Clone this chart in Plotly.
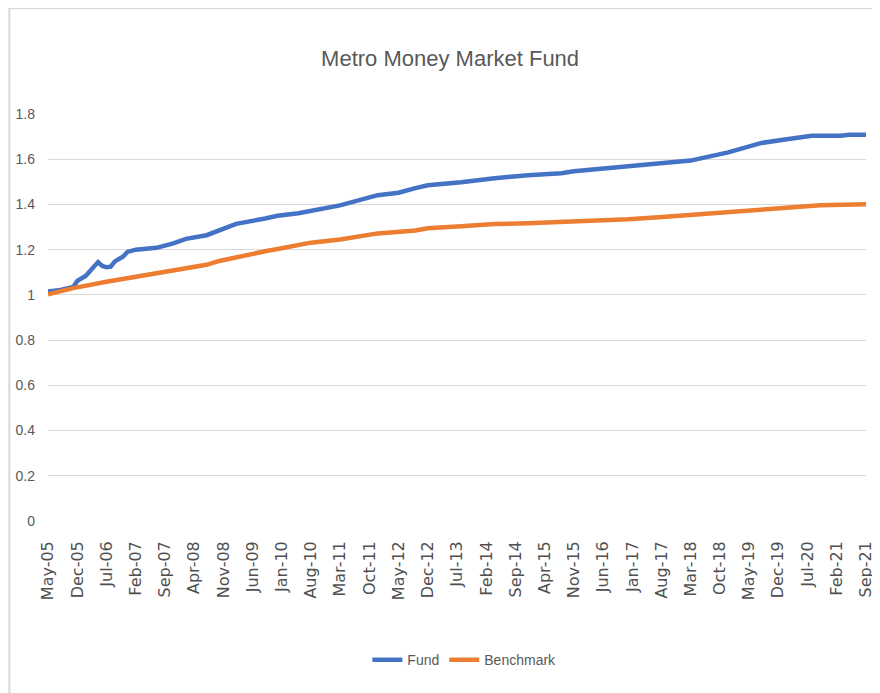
import plotly.graph_objects as go

# ---- data ----
fund_dates = ["2005-05-01", "2005-08-01", "2005-11-01", "2005-12-01", "2006-02-01",
              "2006-03-01", "2006-05-01", "2006-06-01", "2006-07-01", "2006-08-01",
              "2006-09-01", "2006-11-01", "2006-12-01", "2007-02-01", "2007-07-01",
              "2007-11-01", "2008-02-01", "2008-07-01", "2008-10-01", "2009-02-01",
              "2009-09-01", "2009-12-01", "2010-05-01", "2011-03-01", "2011-12-01",
              "2012-05-01", "2012-09-01", "2012-12-01", "2013-08-01", "2014-04-01",
              "2014-12-01", "2015-08-01", "2015-11-01", "2016-04-01", "2016-12-01",
              "2017-05-01", "2018-03-01", "2018-12-01", "2019-08-01", "2020-02-01",
              "2020-08-01", "2021-03-01", "2021-05-01", "2021-09-01"]
fund_values = [1.015, 1.022, 1.035, 1.062, 1.085,
               1.105, 1.145, 1.128, 1.122, 1.125,
               1.148, 1.170, 1.190, 1.200, 1.208,
               1.228, 1.248, 1.264, 1.285, 1.314,
               1.338, 1.350, 1.361, 1.396, 1.441,
               1.452, 1.472, 1.485, 1.498, 1.516,
               1.529, 1.538, 1.547, 1.556, 1.568,
               1.577, 1.594, 1.630, 1.672, 1.688,
               1.704, 1.704, 1.708, 1.708]

bench_dates = ["2005-05-01", "2005-11-01", "2006-07-01", "2007-03-01", "2007-11-01",
               "2008-07-01", "2008-10-01", "2009-02-01", "2009-09-01", "2009-12-01",
               "2010-05-01", "2010-08-01", "2011-03-01", "2011-12-01", "2012-09-01",
               "2012-12-01", "2013-08-01", "2014-04-01", "2014-12-01", "2015-08-01",
               "2016-04-01", "2016-12-01", "2017-09-01", "2018-09-01", "2019-10-01",
               "2020-10-01", "2021-05-01", "2021-09-01"]
bench_values = [1.002, 1.030, 1.058, 1.083, 1.105,
                1.133, 1.150, 1.167, 1.193, 1.203,
                1.220, 1.231, 1.245, 1.272, 1.285,
                1.295, 1.304, 1.313, 1.317, 1.322,
                1.330, 1.335, 1.346, 1.364, 1.380,
                1.396, 1.400, 1.401]

tick_dates = ["2005-05-01", "2005-12-01", "2006-07-01", "2007-02-01", "2007-09-01",
              "2008-04-01", "2008-11-01", "2009-06-01", "2010-01-01", "2010-08-01",
              "2011-03-01", "2011-10-01", "2012-05-01", "2012-12-01", "2013-07-01",
              "2014-02-01", "2014-09-01", "2015-04-01", "2015-11-01", "2016-06-01",
              "2017-01-01", "2017-08-01", "2018-03-01", "2018-10-01", "2019-05-01",
              "2019-12-01", "2020-07-01", "2021-02-01", "2021-09-01"]
tick_labels = ["May-05", "Dec-05", "Jul-06", "Feb-07", "Sep-07",
               "Apr-08", "Nov-08", "Jun-09", "Jan-10", "Aug-10",
               "Mar-11", "Oct-11", "May-12", "Dec-12", "Jul-13",
               "Feb-14", "Sep-14", "Apr-15", "Nov-15", "Jun-16",
               "Jan-17", "Aug-17", "Mar-18", "Oct-18", "May-19",
               "Dec-19", "Jul-20", "Feb-21", "Sep-21"]

y_ticks = [0, 0.2, 0.4, 0.6, 0.8, 1, 1.2, 1.4, 1.6, 1.8]

SANS = "Liberation Sans, Arial, sans-serif"
GREY = "#595959"

fig = go.Figure()
fig.add_trace(go.Scatter(x=fund_dates, y=fund_values, mode="lines", name="Fund",
                         line=dict(color="#4472C4", width=4.5)))
fig.add_trace(go.Scatter(x=bench_dates, y=bench_values, mode="lines", name="Benchmark",
                         line=dict(color="#ED7D31", width=4.5)))

# page body has an 8px margin, so the figure is 8px smaller each way
fig.update_layout(
    width=872, height=685,
    paper_bgcolor="white", plot_bgcolor="white",
    margin=dict(l=40, r=14, t=106, b=172, autoexpand=False),
    title=dict(text="Metro Money Market Fund", x=0.507, xanchor="center",
               y=0.927, yanchor="middle",
               font=dict(family=SANS, size=22, color=GREY)),
    showlegend=True,
    legend=dict(orientation="h", x=0.509, xanchor="center",
                yref="container", y=0.048, yanchor="middle",
                font=dict(family=SANS, size=14, color=GREY),
                itemwidth=30),
    xaxis=dict(type="date", range=["2005-05-01", "2021-09-01"],
               tickmode="array", tickvals=tick_dates, ticktext=tick_labels,
               tickangle=-90, showgrid=False, zeroline=False, showline=False,
               ticks="", ticklabelstandoff=16, ticklabeloverflow="allow",
               automargin=False,
               tickfont=dict(family="DejaVu Sans", size=16, color="#505050")),
    yaxis=dict(range=[0, 1.8], tickmode="array", tickvals=y_ticks,
               showgrid=True, gridcolor="#D9D9D9", gridwidth=1,
               zeroline=False, showline=False, ticks="", ticklabelstandoff=12,
               automargin=False,
               tickfont=dict(family=SANS, size=14, color=GREY)),
)

# chart-area frame (light grey), like the spreadsheet chart border
fig.add_shape(type="line", xref="paper", yref="paper",
              x0=-0.0473, x1=1.03, y0=1.262, y1=1.262,
              line=dict(color="#D9D9D9", width=4))
fig.add_shape(type="line", xref="paper", yref="paper",
              x0=-0.0473, x1=-0.0473, y0=1.262, y1=-0.44,
              line=dict(color="#D9D9D9", width=2))

fig.write_html("out.html")
